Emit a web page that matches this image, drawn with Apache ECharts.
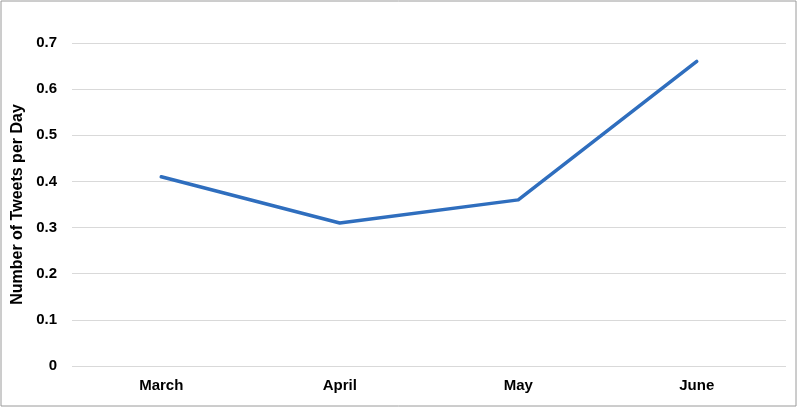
<!DOCTYPE html>
<html>
<head>
<meta charset="utf-8">
<script src="https://cdn.jsdelivr.net/npm/echarts@6/dist/echarts.min.js"></script>
<style>
  html, body { margin: 0; padding: 0; background: #fff; }
  #main { width: 798px; height: 408px; }
</style>
</head>
<body>
<div id="main"></div>
<script>
  // months on the x axis
  var months = ['March', 'April', 'May', 'June'];
  // tweets per day
  var tweetsPerDay = [0.41, 0.31, 0.36, 0.66];

  var chart = echarts.init(document.getElementById('main'));

  var option = {
    backgroundColor: '#fff',
    animation: false,
    graphic: [{
      type: 'rect',
      shape: { x: 1, y: 1, width: 795, height: 405 },
      style: { fill: 'none', stroke: '#9a9a9a', lineWidth: 1 },
      silent: true
    }],
    grid: {
      left: 72,
      right: 12,
      top: 43,
      bottom: 42,
      outerBoundsMode: 'none'
    },
    xAxis: {
      type: 'category',
      data: months,
      axisLine: { show: false },
      axisTick: { show: false },
      axisLabel: {
        margin: 12,
        color: '#000',
        fontFamily: 'Liberation Sans, Arial, sans-serif',
        fontWeight: 'bold',
        fontSize: 15
      }
    },
    yAxis: {
      type: 'value',
      min: 0,
      max: 0.7,
      interval: 0.1,
      name: 'Number of Tweets per Day',
      nameLocation: 'middle',
      nameGap: 46,
      nameTextStyle: {
        color: '#000',
        fontFamily: 'Liberation Sans, Arial, sans-serif',
        fontWeight: 'bold',
        fontSize: 16
      },
      axisLine: { show: false },
      axisTick: { show: false },
      axisLabel: {
        margin: 15,
        color: '#000',
        fontFamily: 'Liberation Sans, Arial, sans-serif',
        fontWeight: 'bold',
        fontSize: 15,
        formatter: function (v) { return v === 0 ? '0' : v.toFixed(1); }
      },
      splitLine: { show: true, lineStyle: { color: '#d9d9d9', width: 1 } }
    },
    series: [{
      name: 'Tweets',
      type: 'line',
      data: tweetsPerDay,
      showSymbol: false,
      symbol: 'none',
      lineStyle: { color: '#2f6ebe', width: 3.5, cap: 'round', join: 'round' }
    }]
  };

  chart.setOption(option);
</script>
</body>
</html>
